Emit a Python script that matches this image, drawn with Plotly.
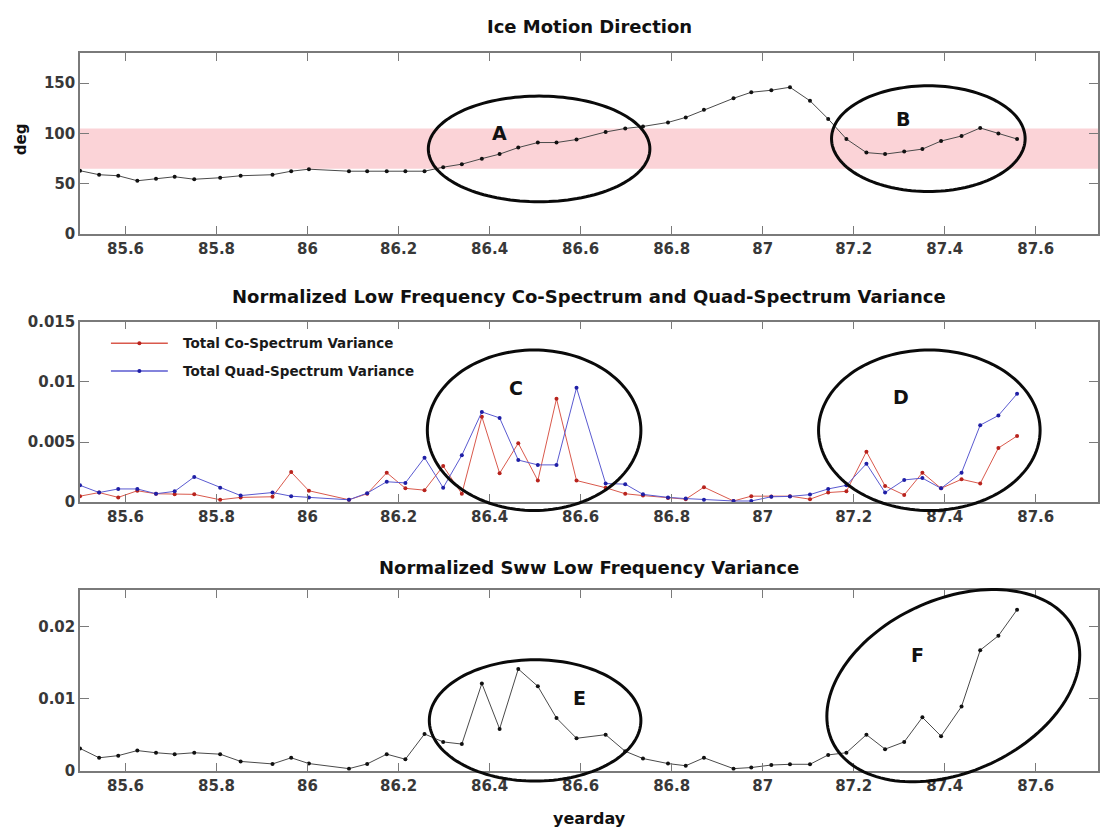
import math
import plotly.graph_objects as go

# ---- data -----------------------------------------------------------------
# hourly sample times (yearday) shared by every panel
yearday = [85.500, 85.542, 85.584, 85.626, 85.667, 85.708, 85.751, 85.808,
           85.853, 85.923, 85.964, 86.003, 86.091, 86.131, 86.174, 86.215,
           86.257, 86.298, 86.339, 86.383, 86.422, 86.463, 86.506, 86.547,
           86.591, 86.655, 86.698, 86.737, 86.792, 86.831, 86.871, 86.936,
           86.975, 87.019, 87.060, 87.104, 87.144, 87.184, 87.228, 87.269,
           87.311, 87.351, 87.392, 87.437, 87.478, 87.518, 87.559]

# ice motion direction, degrees
direction = [63, 59, 58, 53, 55, 57, 54.5, 56,
             58, 59, 62.5, 64.5, 62.5, 62.5, 62.5, 62.5,
             62.5, 66.5, 69.5, 75, 79.5, 86, 91, 91,
             94, 101.5, 105, 107, 111, 116, 123.5, 135,
             141, 143, 146, 132.5, 114.5, 94.5, 81, 79.5,
             82, 84.5, 92.5, 97.5, 105.5, 100, 94.5]

# normalized low-frequency co-spectrum variance
co_spectrum = [0.0005, 0.0008, 0.0004, 0.00095, 0.0007, 0.00065, 0.00065, 0.0002,
               0.0004, 0.00045, 0.0025, 0.00095, 0.0002, 0.0007, 0.00245, 0.00115,
               0.0010, 0.0030, 0.0007, 0.0071, 0.0024, 0.0049, 0.0018, 0.0086,
               0.0018, 0.0012, 0.0007, 0.00055, 0.00035, 0.00025, 0.00125, 0.0001,
               0.0005, 0.00048, 0.0005, 0.00025, 0.0008, 0.0009, 0.0042, 0.00135,
               0.0006, 0.00245, 0.00115, 0.0019, 0.00155, 0.0045, 0.0055]

# normalized low-frequency quad-spectrum variance
quad_spectrum = [0.0014, 0.0008, 0.0011, 0.0011, 0.0007, 0.0009, 0.0021, 0.0012,
                 0.00055, 0.0008, 0.0005, 0.0004, 0.0002, 0.00075, 0.0017, 0.0016,
                 0.0037, 0.0012, 0.0039, 0.0075, 0.0070, 0.0035, 0.0031, 0.0031,
                 0.0095, 0.00155, 0.0015, 0.00065, 0.0004, 0.0003, 0.0002, 0.0001,
                 0.0001, 0.00045, 0.00048, 0.00063, 0.0011, 0.0014, 0.0032, 0.0008,
                 0.00185, 0.0020, 0.00115, 0.00245, 0.0064, 0.0072, 0.0090]

# normalized Sww low-frequency variance
sww_variance = [0.0031, 0.0018, 0.0021, 0.0028, 0.0025, 0.0023, 0.0025, 0.0023,
                0.0013, 0.00095, 0.0018, 0.0010, 0.0003, 0.00095, 0.0023, 0.0016,
                0.0051, 0.0040, 0.0037, 0.0121, 0.0058, 0.0141, 0.0117, 0.0073,
                0.0045, 0.0050, 0.0027, 0.0017, 0.0010, 0.0007, 0.0018, 0.0003,
                0.00045, 0.0008, 0.0009, 0.0009, 0.0022, 0.0025, 0.0050, 0.0030,
                0.0040, 0.0074, 0.0048, 0.0089, 0.0167, 0.0187, 0.0223]

x_ticks = [85.6, 85.8, 86.0, 86.2, 86.4, 86.6, 86.8, 87.0, 87.2, 87.4, 87.6]
x_tick_text = ["85.6", "85.8", "86", "86.2", "86.4", "86.6", "86.8", "87", "87.2", "87.4", "87.6"]
dir_ticks = [0, 50, 100, 150]
spec_ticks = [0, 0.005, 0.01, 0.015]
spec_tick_text = ["0", "0.005", "0.01", "0.015"]
sww_ticks = [0, 0.01, 0.02]
sww_tick_text = ["0", "0.01", "0.02"]
band = (65, 105)  # shaded direction sector, degrees

# ---- page geometry -------------------------------------------------------
W, H = 1100, 839
ML = 80


def px_x(px):
    return (px - ML) / (W - ML)


def px_y(py):
    return (H - py) / H


FONT = "DejaVu Sans"
TICK_FONT = dict(family=FONT, size=15, color="#383838", weight="bold")
AXIS_LINE = "#7a7a7a"

fig = go.Figure()

BLACK_LINE = dict(color="#4a4a4a", width=1)
BLACK_MARK = dict(color="#111111", size=4)

fig.add_trace(go.Scatter(x=yearday, y=direction, mode="lines+markers",
                         line=BLACK_LINE, marker=BLACK_MARK,
                         xaxis="x", yaxis="y", showlegend=False))
fig.add_trace(go.Scatter(x=yearday, y=co_spectrum, mode="lines+markers",
                         line=dict(color="#d9594c", width=1),
                         marker=dict(color="#b8231d", size=4),
                         xaxis="x2", yaxis="y2", showlegend=False))
fig.add_trace(go.Scatter(x=yearday, y=quad_spectrum, mode="lines+markers",
                         line=dict(color="#5a5ad0", width=1),
                         marker=dict(color="#1f1fa6", size=4),
                         xaxis="x2", yaxis="y2", showlegend=False))
fig.add_trace(go.Scatter(x=yearday, y=sww_variance, mode="lines+markers",
                         line=BLACK_LINE, marker=BLACK_MARK,
                         xaxis="x3", yaxis="y3", showlegend=False))

X_RANGE = [85.5, 85.5 + (W - ML) / 456.0]


def xaxis(anchor):
    return dict(anchor=anchor, domain=[0, 1], range=X_RANGE,
                tickvals=x_ticks, ticktext=x_tick_text,
                ticks="inside", ticklen=8, tickwidth=1.2, tickcolor=AXIS_LINE,
                showline=True, linecolor=AXIS_LINE, linewidth=1.5, mirror="ticks",
                showgrid=False, zeroline=False, tickfont=TICK_FONT)


def yaxis(anchor, top_px, bot_px, rng, vals, text=None):
    d = dict(anchor=anchor, domain=[px_y(bot_px), px_y(top_px)], range=rng,
             tickvals=vals, ticks="inside", ticklen=9, tickwidth=1.2,
             tickcolor=AXIS_LINE, showline=True, linecolor=AXIS_LINE,
             linewidth=1.5, mirror="ticks", showgrid=False, zeroline=False,
             tickfont=TICK_FONT)
    if text is not None:
        d["ticktext"] = text
    return d


fig.update_layout(
    width=W, height=H,
    margin=dict(l=ML, r=0, t=0, b=0),
    paper_bgcolor="white", plot_bgcolor="white",
    xaxis=xaxis("y"), xaxis2=xaxis("y2"), xaxis3=xaxis("y3"),
    yaxis=yaxis("x", 45, 230, [0, 180], dir_ticks),
    yaxis2=yaxis("x2", 319.5, 504, [0, 0.015], spec_ticks, spec_tick_text),
    yaxis3=yaxis("x3", 594, 778.5, [0, 0.025], sww_ticks, sww_tick_text),
)

# shaded direction sector
fig.add_shape(type="rect", xref="x domain", yref="y", x0=0, x1=1,
              y0=band[0], y1=band[1], fillcolor="#fbd3d7",
              line=dict(width=0), layer="below")

# ---- titles and axis labels ---------------------------------------------
TITLE_FONT = dict(family=FONT, size=18, color="#111111", weight="bold")
for text, ypx in [("Ice Motion Direction", 18),
                  ("Normalized Low Frequency Co-Spectrum and Quad-Spectrum Variance", 294),
                  ("Normalized Sww Low Frequency Variance", 571)]:
    fig.add_annotation(text=text, xref="paper", yref="paper", x=0.5, y=px_y(ypx),
                       xanchor="center", yanchor="middle", showarrow=False,
                       font=TITLE_FONT)

fig.add_annotation(text="deg", xref="paper", yref="paper", x=px_x(21), y=px_y(133),
                   textangle=-90, showarrow=False, xanchor="center", yanchor="middle",
                   font=dict(family=FONT, size=15, color="#111111", weight="bold"))
fig.add_annotation(text="yearday", xref="paper", yref="paper", x=px_x(591), y=px_y(827),
                   showarrow=False, xanchor="center", yanchor="middle",
                   font=dict(family=FONT, size=16, color="#111111", weight="bold"))

# ---- legend of the spectrum panel ---------------------------------------
LEGEND_FONT = dict(family=FONT, size=13.5, color="#1a1a1a", weight="bold")
for label, ypx, lc, mc in [("Total Co-Spectrum Variance", 341.5, "#d9594c", "#b8231d"),
                           ("Total Quad-Spectrum Variance", 370, "#5a5ad0", "#1f1fa6")]:
    fig.add_shape(type="line", xref="paper", yref="paper",
                  x0=px_x(111), x1=px_x(168), y0=px_y(ypx), y1=px_y(ypx),
                  line=dict(color=lc, width=1.5))
    fig.add_shape(type="circle", xref="paper", yref="paper",
                  x0=px_x(137.5), x1=px_x(141.5), y0=px_y(ypx + 2), y1=px_y(ypx - 2),
                  fillcolor=mc, line=dict(color=mc, width=0))
    fig.add_annotation(text=label, xref="paper", yref="paper", x=px_x(181), y=px_y(ypx),
                       xanchor="left", yanchor="middle", showarrow=False, font=LEGEND_FONT)

# ---- highlighted episodes -----------------------------------------------
# (centre x, centre y, semi-axis a, semi-axis b, tilt deg) in page pixels
ellipses = [
    (540, 143, 111, 54, 0),
    (930, 132.5, 97, 54, 0),
    (535, 430.5, 107, 82, 0),
    (931, 430.5, 111, 82, 0),
    (536, 727, 106, 62, 0),
    (955, 691.5, 134, 88, 25.6),
]
letters = [("A", 500, 127), ("B", 905, 112), ("C", 517, 387),
           ("D", 903, 397), ("E", 580, 704), ("F", 919, 660)]


def ellipse_path(cx, cy, a, b, tilt, n=144):
    t = math.radians(tilt)
    pts = []
    for k in range(n + 1):
        phi = 2 * math.pi * k / n
        ex = a * math.cos(phi)
        ey = b * math.sin(phi)
        px = cx + ex * math.cos(t) - ey * math.sin(t)
        py = cy - (ex * math.sin(t) + ey * math.cos(t))
        pts.append(f"{px_x(px):.5f},{px_y(py):.5f}")
    return "M " + " L ".join(pts) + " Z"


for cx, cy, a, b, tilt in ellipses:
    fig.add_shape(type="path", xref="paper", yref="paper",
                  path=ellipse_path(cx, cy, a, b, tilt),
                  line=dict(color="#0a0a0a", width=3), layer="above")

for ch, lx, ly in letters:
    fig.add_annotation(text=ch, xref="paper", yref="paper", x=px_x(lx), y=px_y(ly),
                       xanchor="center", yanchor="middle", showarrow=False,
                       font=dict(family=FONT, size=19, color="#111111", weight="bold"))

fig.write_html("out.html")
